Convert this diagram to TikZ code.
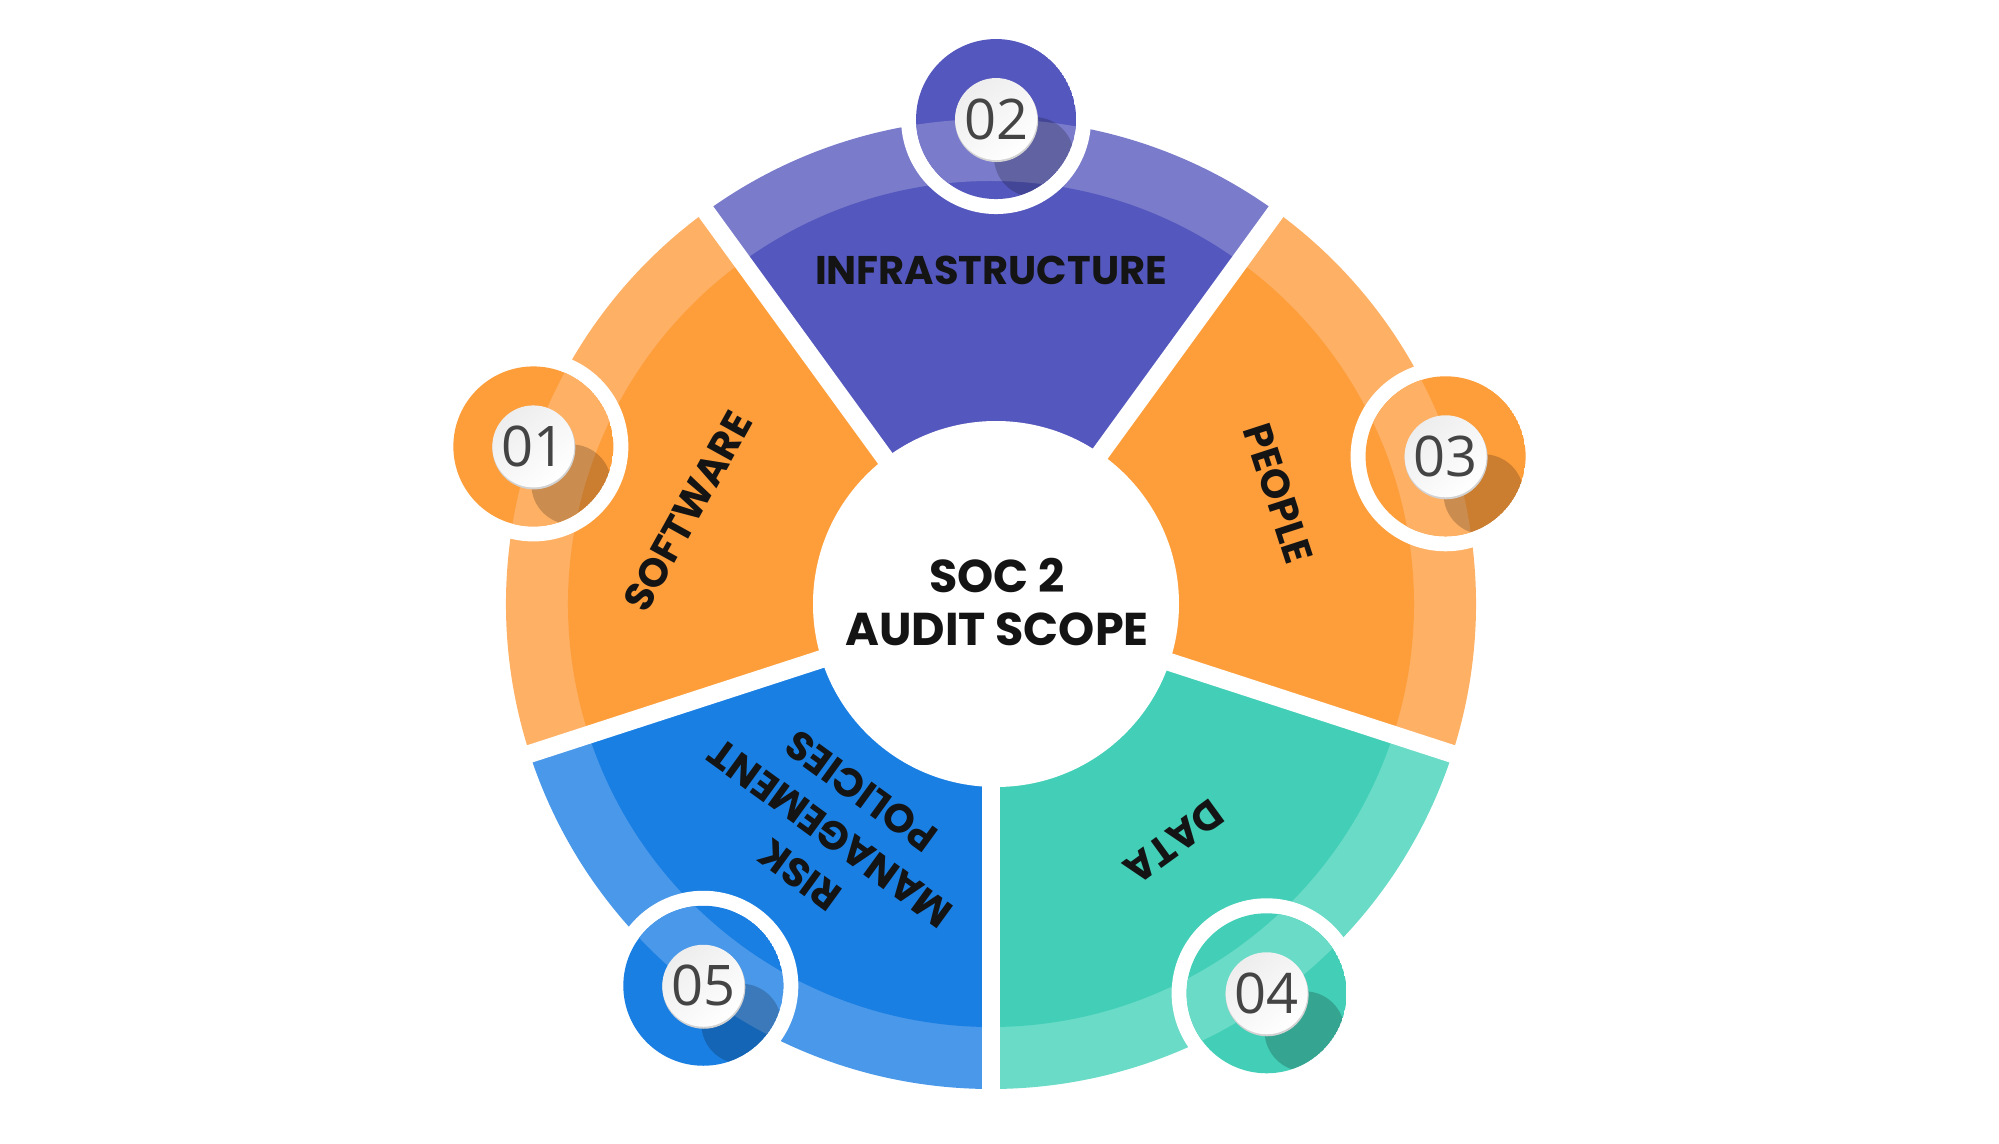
\documentclass[tikz,border=0pt]{standalone}
\usepackage{fontspec}
\newfontfamily\pop{Poppins}
\newfontfamily\osans{Open Sans}
\usetikzlibrary{calc}
\definecolor{orM}{HTML}{FE9E3B}
\definecolor{orL}{HTML}{FEB064}
\definecolor{puM}{HTML}{5457BD}
\definecolor{puL}{HTML}{7A7BCB}
\definecolor{teM}{HTML}{43CFB7}
\definecolor{teL}{HTML}{69DBC7}
\definecolor{blM}{HTML}{1A7FE3}
\definecolor{blL}{HTML}{4A98E9}
\definecolor{numgray}{HTML}{444444}
\definecolor{labelk}{HTML}{141414}
\tikzset{
  seglabel/.style={font=\pop\bfseries\fontsize{40}{52}\selectfont, text=labelk, align=center, inner sep=0pt},
  numlabel/.style={font=\osans\fontsize{56}{56}\selectfont, text=numgray, inner sep=0pt},
}
\begin{document}
\begin{tikzpicture}[x=1pt,y=1pt]
\useasboundingbox (-991,-539) rectangle (1008,604);
\def\Ro{485}
\def\Ri{423}
% sectors
\foreach \a/\m/\l in {90/puM/puL,162/orM/orL,18/orM/orL,-54/teM/teL,234/blM/blL}{
  \fill[\l] (0,0) -- (\a-36:\Ro) arc[start angle=\a-36, end angle=\a+36, radius=\Ro] -- cycle;
  \fill[\m] (0,0) -- (\a-36:\Ri) arc[start angle=\a-36, end angle=\a+36, radius=\Ri] -- cycle;
}
% white gaps
\foreach \a in {54,126,198,270,342}
  \draw[white, line width=18] (0,0) -- (\a:530);
% centre disc
\fill[white] (5,0) circle (183);
\node[font=\pop\bfseries\fontsize{46}{53}\selectfont, text=labelk, align=center, inner sep=0pt] (title) at (6,2) {SOC 2\\AUDIT SCOPE};
% labels
\node[seglabel] (infra) at (90:334) {INFRASTRUCTURE};
\node[seglabel, rotate=61] (soft) at (163:317) {SOFTWARE};
\node[seglabel, rotate=-72] (people) at (21:308) {PEOPLE};
\node[seglabel, rotate=216] (data) at (-52.5:300) {DATA};
\node[seglabel, rotate=144] (risk) at (235:280) {RISK\\MANAGEMENT\\POLICIES};
% badges
\foreach \a/\rr/\m/\l/\n in {161/484/orM/orL/01,89.4/485/puM/puL/02,18/478/orM/orL/03,-54.7/477/teM/teL/04,233/478/blM/blL/05}{
  \fill[white] (\a:\rr) circle (95);
  \begin{scope}
    \clip (\a:\rr) circle (80);
    \fill[\m] (\a:\rr) circle (80);
    \fill[\l, even odd rule] (0,0) circle (\Ro) (0,0) circle (\Ri);
    \fill[black, opacity=0.2] ([shift={(38,-38)}]\a:\rr) circle (40);
  \end{scope}
  \fill[gray!35] ([shift={(0.5,-1.5)}]\a:\rr) circle (41.5);
  \shade[top color=gray!14, bottom color=white, shading angle=40] (\a:\rr) circle (41);
  \node[numlabel] (n\n) at (\a:\rr) {\n};
}
\end{tikzpicture}
\end{document}
